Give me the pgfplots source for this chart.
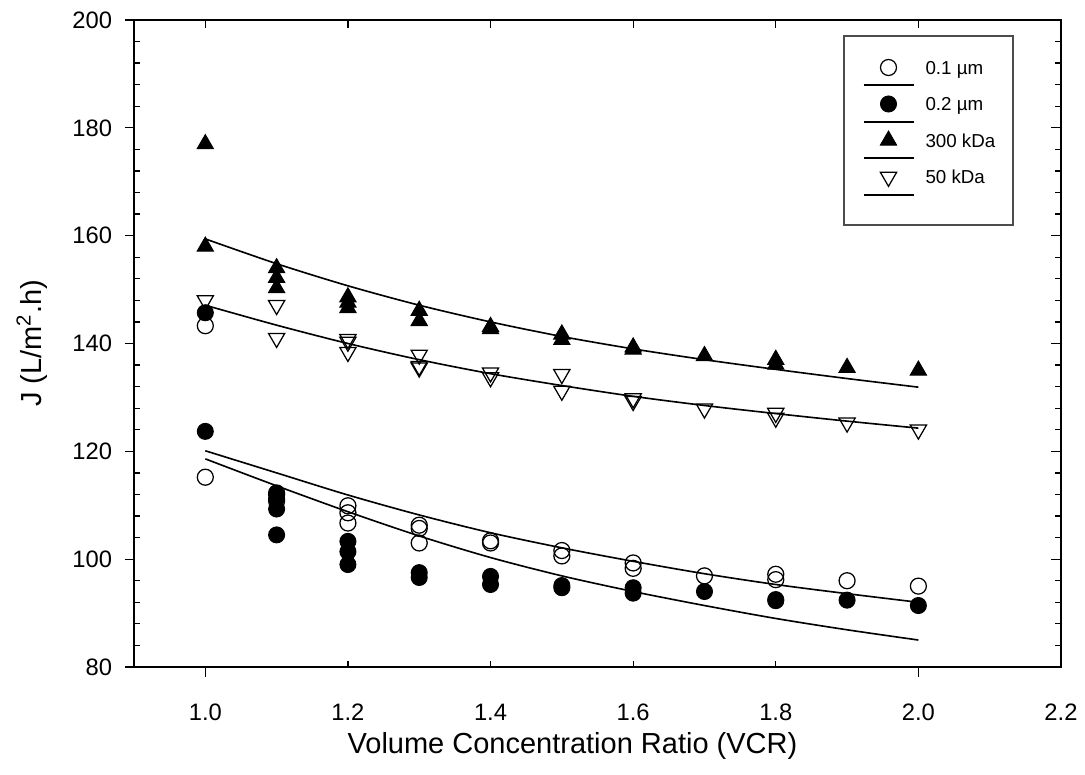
\documentclass[border=0pt]{standalone}
\usepackage{fontspec}
\setmainfont{Liberation Sans}
\usepackage{pgfplots}
\pgfplotsset{compat=1.18}
\usetikzlibrary{calc}

\begin{document}
\begin{tikzpicture}
\begin{axis}[
  scale only axis,
  width=370.8pt, height=258.8pt,
  xmin=0.9, xmax=2.2, ymin=80, ymax=200,
  clip=false,
  axis line style={line width=0.5pt},
  xtick={1.0,1.2,1.4,1.6,1.8,2.0,2.2},
  xticklabels={1.0,1.2,1.4,1.6,1.8,2.0,2.2},
  ytick={80,100,120,140,160,180,200},
  minor tick num=0,
  tick style={draw=none},
  /pgf/number format/assume math mode=true,
  ticklabel style={font=\fontsize{9.5}{11}\selectfont},
  xticklabel style={anchor=north, inner sep=0pt, yshift=-14.6pt},
  yticklabel style={anchor=east, inner sep=0pt, xshift=-8.6pt},
  xlabel={Volume Concentration Ratio (VCR)},
  ylabel={J (L/m\textsuperscript{2}.h)},
  label style={font=\fontsize{11.6}{14}\selectfont},
  xlabel style={at={($(axis description cs:0.5,0)+(-10pt,0pt)$)}, anchor=center, yshift=-31.6pt},
  ylabel style={at={($(axis description cs:0,0.5)+(-40.8pt,0pt)$)}, anchor=center},
  legend image code/.code={
    \path[draw=none, fill=none] (0pt,-9pt) rectangle (20pt,5.6pt);
    \draw[black, line width=0.8pt] (0pt,-7.2pt) -- (20pt,-7.2pt);
    \draw[#1] plot coordinates {(10pt,0pt)};
  },
  legend style={draw=none, fill=none, at={(0,1)}, anchor=north west,
    xshift=291.2pt, yshift=-13.2pt,
    inner sep=0pt, row sep=0pt, column sep=4.4pt,
    cells={anchor=base west},
    nodes={inner sep=0pt, yshift=-2.7pt, font=\fontsize{7.5}{9}\selectfont}},
]

% fitted curves
\addplot[black, line width=0.65pt, smooth, forget plot] coordinates {
  (1.0,159.4) (1.1,154.8) (1.2,150.7) (1.3,147.1) (1.4,144.0) (1.5,141.3)
  (1.6,139.0) (1.7,137.0) (1.8,135.2) (1.9,133.5) (2.0,131.9)};
\addplot[black, line width=0.65pt, smooth, forget plot] coordinates {
  (1.0,147.1) (1.1,143.4) (1.2,140.0) (1.3,137.0) (1.4,134.4) (1.5,132.2)
  (1.6,130.2) (1.7,128.5) (1.8,127.0) (1.9,125.6) (2.0,124.3)};
\addplot[black, line width=0.65pt, smooth, forget plot] coordinates {
  (1.0,120.1) (1.1,116.0) (1.2,111.9) (1.3,108.2) (1.4,104.9) (1.5,102.1)
  (1.6,99.6) (1.7,97.3) (1.8,95.3) (1.9,93.6) (2.0,92.0)};
\addplot[black, line width=0.65pt, smooth, forget plot] coordinates {
  (1.0,118.6) (1.1,113.6) (1.2,108.8) (1.3,104.3) (1.4,100.3) (1.5,96.9)
  (1.6,94.0) (1.7,91.4) (1.8,89.0) (1.9,86.9) (2.0,85.0)};

% 0.1 um
\addplot[only marks, mark=o, mark size=3.2pt, mark options={draw=black, line width=0.5pt}] coordinates {
  (1.0,143.3) (1.0,115.2) (1.1,112.0) (1.1,110.8) (1.2,109.9) (1.2,108.6) (1.2,106.7)
  (1.3,106.3) (1.3,105.7) (1.3,103.0) (1.4,103.4) (1.4,103.0) (1.5,101.6) (1.5,100.6)
  (1.6,99.3) (1.6,98.3) (1.7,96.9) (1.8,97.2) (1.8,96.2) (1.9,96.0) (2.0,95.0)};
% 0.2 um
\addplot[only marks, mark=*, mark size=3.2pt, mark options={draw=black, fill=black}] coordinates {
  (1.0,145.7) (1.0,123.7) (1.1,112.3) (1.1,111.2) (1.1,109.3) (1.1,104.5)
  (1.2,103.3) (1.2,101.4) (1.2,99.0) (1.3,97.5) (1.3,96.6) (1.4,96.8) (1.4,95.3)
  (1.5,95.1) (1.5,94.7) (1.6,94.7) (1.6,93.7) (1.7,94.0) (1.8,92.5) (1.8,92.3)
  (1.9,92.4) (2.0,91.4)};
% 300 kDa
\addplot[only marks, mark=triangle*, mark size=3.75pt, mark options={draw=black, fill=black}] coordinates {
  (1.0,177.0) (1.0,158.0) (1.1,154.0) (1.1,152.2) (1.1,150.3) (1.2,148.6) (1.2,147.6)
  (1.2,146.6) (1.3,146.1) (1.3,144.2) (1.4,143.1) (1.4,142.7) (1.5,141.7) (1.5,140.7)
  (1.6,139.3) (1.6,138.9) (1.7,137.7) (1.8,137.0) (1.8,136.1) (1.9,135.5) (2.0,135.0)};
% 50 kDa
\addplot[only marks, mark=triangle, mark size=3.75pt, mark options={draw=black, line width=0.5pt, rotate=180}] coordinates {
  (1.0,148.0) (1.1,147.1) (1.1,141.0) (1.2,140.8) (1.2,140.3) (1.2,138.4)
  (1.3,137.9) (1.3,135.8) (1.3,135.5) (1.4,134.6) (1.4,133.7) (1.5,134.3) (1.5,131.2)
  (1.6,129.8) (1.6,129.3) (1.7,127.9) (1.8,127.1) (1.8,126.2) (1.9,125.3) (2.0,124.0)};

\legend{0.1 µm, 0.2 µm, 300 kDa, 50 kDa}

% legend frame
\draw[black!70, line width=0.5pt] (rel axis cs:0,1) ++(284pt,-6.4pt) rectangle ++(67.6pt,-75.6pt);

% tick marks
\pgfplotsinvokeforeach{1.2,1.4,1.6,1.8}{
  \draw[line width=0.5pt] (axis cs:#1,80) -- ++(0pt,2.3pt);
}
\pgfplotsinvokeforeach{1.0,2.0}{
  \draw[line width=0.5pt] (axis cs:#1,80) -- ++(0pt,-4pt);
}
\pgfplotsinvokeforeach{1.0,1.2,1.4,1.6,1.8,2.0}{
  \draw[line width=0.5pt] (axis cs:#1,200) -- ++(0pt,-3.3pt);
}
\pgfplotsinvokeforeach{80,100,120,140,160,180,200}{
  \draw[line width=0.5pt] (axis cs:0.9,#1) -- ++(-3.7pt,0pt);
  \draw[line width=0.5pt] (axis cs:2.2,#1) -- ++(-4pt,0pt);
}
\pgfplotsinvokeforeach{84,88,92,96,104,108,112,116,124,128,132,136,144,148,152,156,164,168,172,176,184,188,192,196}{
  \draw[line width=0.5pt] (axis cs:0.9,#1) -- ++(2.3pt,0pt);
  \draw[line width=0.5pt] (axis cs:2.2,#1) -- ++(-2.4pt,0pt);
}
\end{axis}
\pgfresetboundingbox
\path[use as bounding box] ($(current axis.south west)+(-53.6pt,-43.2pt)$) rectangle ($(current axis.north east)+(9.6pt,8pt)$);
\end{tikzpicture}
\end{document}
